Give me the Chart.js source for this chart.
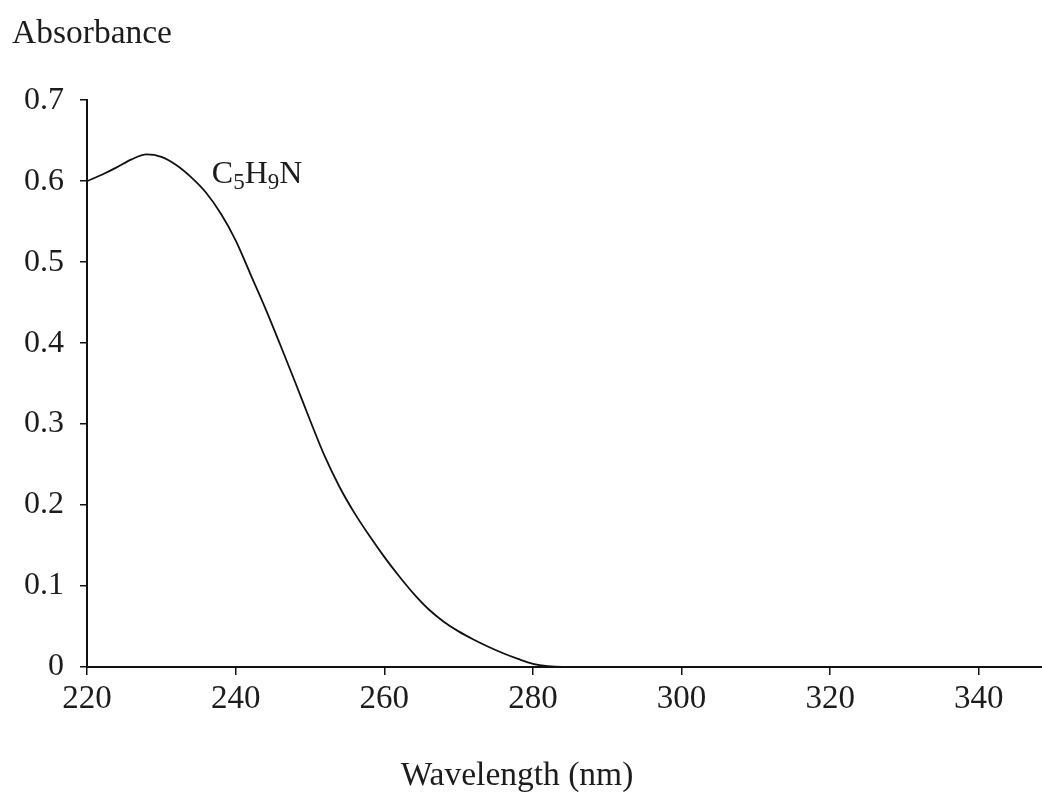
<!DOCTYPE html>
<html>
<head>
<meta charset="utf-8">
<script src="https://cdn.jsdelivr.net/npm/chart.js@4.4.0/dist/chart.umd.min.js"></script>
<style>
  body { margin: 0; background: #fff; }
</style>
</head>
<body>
<canvas id="chart" width="1042" height="798"></canvas>
<script>
// wavelength (nm) and absorbance
const wavelengths = [220, 222, 224, 226, 228, 230, 232, 234, 236, 238, 240, 242, 244, 246, 248, 250,
  252, 254, 256, 258, 260, 262, 264, 266, 268, 270, 272, 274, 276, 278, 280, 282, 284, 290, 300,
  310, 320, 330, 340, 348];
const absorbance = [0.600, 0.608, 0.617, 0.627, 0.633, 0.630, 0.620, 0.605, 0.586, 0.560, 0.527, 0.485,
  0.443, 0.398, 0.352, 0.305, 0.260, 0.222, 0.190, 0.162, 0.136, 0.112, 0.090, 0.071, 0.056, 0.044,
  0.034, 0.025, 0.017, 0.010, 0.004, 0.001, 0, 0, 0, 0, 0, 0, 0, 0];
const xTicks = [220, 240, 260, 280, 300, 320, 340];
const yTicks = [0, 0.1, 0.2, 0.3, 0.4, 0.5, 0.6, 0.7];

const seriesName = "C5H9N";
const xTitle = "Wavelength (nm)";
const labelAt = {x: 236.8, y: 0.598};

const ink = "#1c1c1c";
const serif = "'Liberation Serif', 'Times New Roman', serif";

// C5H9N with subscript digits next to the curve, and the x axis title
const textLayer = {
  id: "textLayer",
  afterDraw(chart) {
    const ctx = chart.ctx;
    let x = chart.scales.x.getPixelForValue(labelAt.x);
    const y = chart.scales.y.getPixelForValue(labelAt.y);
    ctx.save();
    ctx.fillStyle = ink;
    ctx.textBaseline = "alphabetic";
    ctx.textAlign = "left";
    for (const ch of seriesName) {
      const sub = /[0-9]/.test(ch);
      ctx.font = (sub ? "23px " : "32px ") + serif;
      ctx.fillText(ch, x, sub ? y + 6 : y);
      x += ctx.measureText(ch).width;
    }
    ctx.font = "33.5px " + serif;
    ctx.textAlign = "center";
    ctx.fillText(xTitle, 517, 785);
    ctx.restore();
  }
};

new Chart(document.getElementById("chart"), {
  type: "line",
  data: {
    datasets: [{
      label: seriesName,
      data: wavelengths.map((w, i) => ({x: w, y: absorbance[i]})),
      borderColor: "#111",
      borderWidth: 1.8,
      pointRadius: 0,
      cubicInterpolationMode: "monotone",
      fill: false
    }]
  },
  options: {
    responsive: false,
    animation: false,
    layout: {padding: {left: 12, right: 0, top: 0, bottom: 0}},
    plugins: {
      legend: {display: false},
      tooltip: {enabled: false},
      title: {
        display: true,
        text: "Absorbance",
        align: "start",
        color: ink,
        font: {family: serif, size: 33.5, weight: "normal"},
        padding: {top: 14, bottom: 46}
      }
    },
    scales: {
      x: {
        type: "linear",
        min: 220,
        max: 348.5,
        afterFit: s => { s.height = 131; },
        afterBuildTicks: s => { s.ticks = xTicks.map(v => ({value: v})); },
        grid: {drawOnChartArea: false, drawTicks: true, tickLength: 8, color: "#111", lineWidth: 1.5},
        border: {display: true, color: "#111", width: 2},
        ticks: {color: ink, padding: 5, font: {family: serif, size: 33}, maxRotation: 0, autoSkip: false}
      },
      y: {
        min: 0,
        max: 0.7,
        afterFit: s => { s.width = 75; },
        afterBuildTicks: s => { s.ticks = yTicks.map(v => ({value: v})); },
        grid: {drawOnChartArea: false, drawTicks: true, tickLength: 7, color: "#111", lineWidth: 1.5},
        border: {display: true, color: "#111", width: 2},
        ticks: {color: ink, padding: 16, font: {family: serif, size: 32}}
      }
    }
  },
  plugins: [textLayer]
});
</script>
</body>
</html>
